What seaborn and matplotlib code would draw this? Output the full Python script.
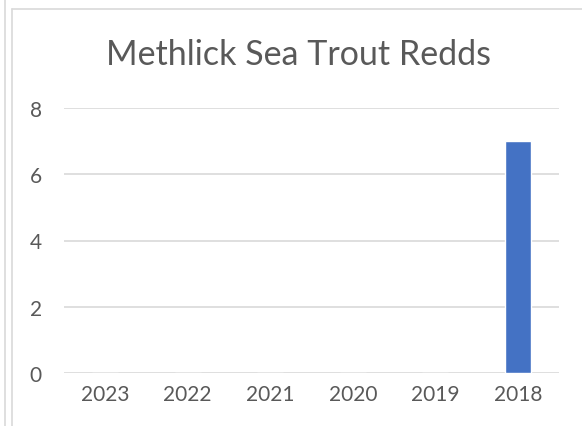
import matplotlib
matplotlib.use("Agg")
import matplotlib.pyplot as plt
import seaborn as sns
import pandas as pd
from matplotlib.lines import Line2D

years = ["2023", "2022", "2021", "2020", "2019", "2018"]
redds = [0, 0, 0, 0, 0, 7]
y_ticks = [0, 2, 4, 6, 8]
title = "Methlick Sea Trout Redds"

sns.set_style("white")
plt.rcParams["font.family"] = ["Lato", "DejaVu Sans"]

df = pd.DataFrame({"year": years, "redds": redds})

fig = plt.figure(figsize=(5.82, 4.27), dpi=100)
W, H = 582, 427
ax = fig.add_axes([64 / W, 1 - 374 / H, (559 - 64) / W, (374 - 109) / H])

sns.barplot(data=df, x="year", y="redds", order=years, color="#4472C4",
            width=0.32, saturation=1, ax=ax)

ax.set_ylim(0, 8)
ax.set_yticks(y_ticks)
ax.yaxis.grid(True, color="#D9D9D9", linewidth=1.2)
ax.set_axisbelow(True)
for s in ax.spines.values():
    s.set_visible(False)
ax.tick_params(axis="both", length=0, labelsize=15, labelcolor="#595959")
ax.tick_params(axis="x", pad=8)
ax.tick_params(axis="y", pad=16)
ax.set_xlabel("")
ax.set_ylabel("")

fig.text(299 / W, 1 - 55 / H, title, ha="center", va="center",
         fontsize=24.5, color="#595959")

# chart frame lines
fig.add_artist(Line2D([12 / W, 12 / W], [0, 1 - 10 / H], transform=fig.transFigure,
                      color="#D9D9D9", linewidth=1.2))
fig.add_artist(Line2D([12 / W, 1], [1 - 10 / H, 1 - 10 / H], transform=fig.transFigure,
                      color="#D9D9D9", linewidth=1.2))
fig.add_artist(Line2D([5 / W, 5 / W], [0, 1], transform=fig.transFigure,
                      color="#D9D9D9", linewidth=1.2))

fig.savefig("out.png", dpi=100)
